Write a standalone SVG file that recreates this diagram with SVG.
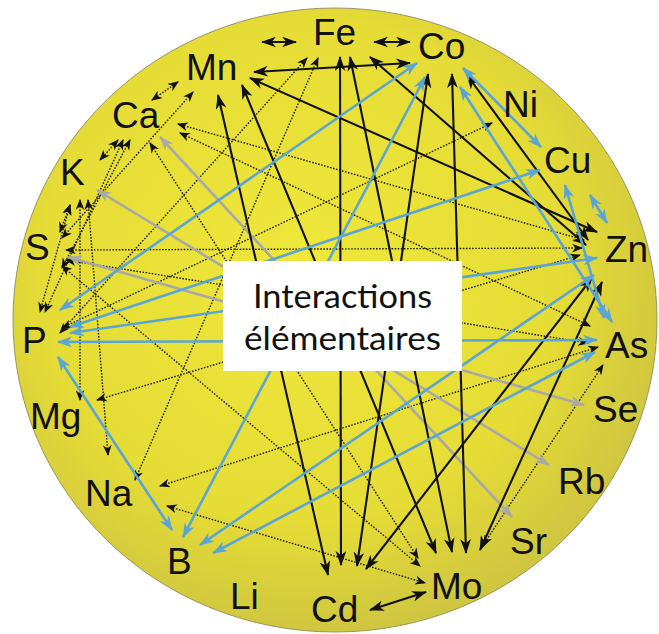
<svg xmlns="http://www.w3.org/2000/svg" width="659" height="634" viewBox="0 0 659 634">
<defs>
<radialGradient id="bg" cx="0.45" cy="0.42" r="0.62">
<stop offset="0" stop-color="#efe83a"/>
<stop offset="0.65" stop-color="#e5dc36"/>
<stop offset="1" stop-color="#cbc242"/>
</radialGradient>
<marker id="ak" viewBox="0 0 14 10" refX="13" refY="5" markerWidth="15" markerHeight="11" markerUnits="userSpaceOnUse" orient="auto-start-reverse"><path d="M0,0 L14,5 L0,10 L4,5 z" fill="#111"/></marker>
<marker id="ab" viewBox="0 0 14 10" refX="13" refY="5" markerWidth="15" markerHeight="11" markerUnits="userSpaceOnUse" orient="auto-start-reverse"><path d="M0,0 L14,5 L0,10 L4,5 z" fill="#5aa5d6"/></marker>
<marker id="ag" viewBox="0 0 14 10" refX="13" refY="5" markerWidth="15" markerHeight="11" markerUnits="userSpaceOnUse" orient="auto-start-reverse"><path d="M0,0 L14,5 L0,10 L4,5 z" fill="#a9a9a9"/></marker>
<marker id="ad" viewBox="0 0 10 8" refX="9" refY="4" markerWidth="11" markerHeight="9" markerUnits="userSpaceOnUse" orient="auto-start-reverse"><path d="M0,0 L10,4 L0,8 L3,4 z" fill="#111"/></marker>
</defs>
<style>
.k{stroke:#111;stroke-width:2.1;fill:none;marker-start:url(#ak);marker-end:url(#ak)}
.b{stroke:#5aa5d6;stroke-width:2.6;fill:none;marker-start:url(#ab);marker-end:url(#ab)}
.g{stroke:#a8a8a8;stroke-width:2.6;fill:none;marker-start:url(#ag);marker-end:url(#ag)}
.d{stroke:#1e1e10;stroke-width:1.4;stroke-dasharray:1.6 1.5;fill:none;marker-start:url(#ad);marker-end:url(#ad)}
.lbl{font-family:"Liberation Sans",Arial,sans-serif;font-size:37px;fill:#111}
.ctr{font-family:"Lato","Open Sans",sans-serif;font-size:33px;fill:#111;text-anchor:middle}
</style>
<ellipse id="disc" cx="335" cy="320" rx="322" ry="312" fill="url(#bg)" stroke="#9a9460" stroke-width="1"/>
<g id="connectors">
<g id="dotted">
<line class="d" x1="152" y1="100" x2="178" y2="82"/>
<line class="d" x1="193" y1="92" x2="62" y2="238"/>
<line class="d" x1="307" y1="58" x2="60" y2="333"/>
<line class="d" x1="318" y1="58" x2="135" y2="480"/>
<line class="d" x1="492" y1="123" x2="62" y2="328"/>
<line class="d" x1="66" y1="250" x2="582" y2="248"/>
<line class="d" x1="178" y1="124" x2="584" y2="240"/>
<line class="d" x1="180" y1="133" x2="590" y2="326"/>
<line class="d" x1="66" y1="260" x2="588" y2="343"/>
<line class="d" x1="62" y1="266" x2="420" y2="566"/>
<line class="d" x1="150" y1="143" x2="418" y2="558"/>
<line class="d" x1="598" y1="347" x2="160" y2="486"/>
<line class="d" x1="167" y1="506" x2="425" y2="583"/>
<line class="d" x1="483" y1="545" x2="603" y2="365"/>
<line class="d" x1="123" y1="140" x2="45" y2="312"/>
<line class="d" x1="70" y1="205" x2="40" y2="312"/>
<line class="d" x1="80" y1="200" x2="80" y2="400"/>
<line class="d" x1="88" y1="200" x2="108" y2="455"/>
<line class="d" x1="60" y1="232" x2="70" y2="205"/>
<line class="d" x1="118" y1="140" x2="100" y2="160"/>
<line class="d" x1="97" y1="400" x2="580" y2="255"/>
<line class="d" x1="130" y1="140" x2="62" y2="268"/>
</g>
<g id="grey">
<line class="g" x1="160" y1="137" x2="512" y2="517"/>
<line class="g" x1="97" y1="190" x2="549" y2="465"/>
<line class="g" x1="68" y1="257" x2="584" y2="405"/>
</g>
<g id="black">
<line class="k" x1="254" y1="72" x2="410" y2="63"/>
<line class="k" x1="262" y1="42" x2="296" y2="42"/>
<line class="k" x1="374" y1="42" x2="410" y2="42"/>
<line class="k" x1="370" y1="610" x2="426" y2="592"/>
<line class="k" x1="250" y1="78" x2="597" y2="232"/>
<line class="k" x1="370" y1="57" x2="586" y2="245"/>
<line class="k" x1="218" y1="95" x2="328" y2="575"/>
<line class="k" x1="242" y1="85" x2="436" y2="553"/>
<line class="k" x1="340" y1="57" x2="341" y2="565"/>
<line class="k" x1="350" y1="57" x2="452" y2="552"/>
<line class="k" x1="428" y1="74" x2="357" y2="566"/>
<line class="k" x1="452" y1="74" x2="466" y2="553"/>
<line class="k" x1="467" y1="75" x2="588" y2="240"/>
<line class="k" x1="592" y1="278" x2="366" y2="569"/>
<line class="k" x1="602" y1="282" x2="480" y2="550"/>
</g>
<g id="blue">
<line class="b" x1="417" y1="63" x2="60" y2="310"/>
<line class="b" x1="425" y1="77" x2="183" y2="537"/>
<line class="b" x1="463" y1="68" x2="541" y2="147"/>
<line class="b" x1="460" y1="87" x2="612" y2="322"/>
<line class="b" x1="565" y1="185" x2="604" y2="318"/>
<line class="b" x1="590" y1="195" x2="607" y2="223"/>
<line class="b" x1="540" y1="170" x2="70" y2="327"/>
<line class="b" x1="597" y1="258" x2="70" y2="333"/>
<line class="b" x1="597" y1="340" x2="58" y2="342"/>
<line class="b" x1="58" y1="357" x2="172" y2="530"/>
<line class="b" x1="200" y1="545" x2="594" y2="275"/>
<line class="b" x1="213" y1="553" x2="595" y2="352"/>
</g>
</g>
<g id="n-Mn"><text class="lbl" x="186" y="80">Mn</text></g>
<g id="n-Fe"><text class="lbl" x="313" y="45">Fe</text></g>
<g id="n-Co"><text class="lbl" x="418" y="59">Co</text></g>
<g id="n-Ni"><text class="lbl" x="503" y="117">Ni</text></g>
<g id="n-Cu"><text class="lbl" x="544" y="173">Cu</text></g>
<g id="n-Zn"><text class="lbl" x="605" y="262">Zn</text></g>
<g id="n-As"><text class="lbl" x="605" y="358">As</text></g>
<g id="n-Se"><text class="lbl" x="593" y="422">Se</text></g>
<g id="n-Rb"><text class="lbl" x="558" y="494">Rb</text></g>
<g id="n-Sr"><text class="lbl" x="510" y="554">Sr</text></g>
<g id="n-Mo"><text class="lbl" x="431" y="599">Mo</text></g>
<g id="n-Cd"><text class="lbl" x="311" y="622">Cd</text></g>
<g id="n-Li"><text class="lbl" x="230" y="609">Li</text></g>
<g id="n-B"><text class="lbl" x="167" y="574">B</text></g>
<g id="n-Na"><text class="lbl" x="85" y="506">Na</text></g>
<g id="n-Mg"><text class="lbl" x="30" y="429">Mg</text></g>
<g id="n-P"><text class="lbl" x="22" y="353">P</text></g>
<g id="n-S"><text class="lbl" x="25" y="260">S</text></g>
<g id="n-K"><text class="lbl" x="60" y="185">K</text></g>
<g id="n-Ca"><text class="lbl" x="112" y="128">Ca</text></g>
<g id="n-center">
<rect x="223" y="261" width="239" height="110" fill="#ffffff"/>
<text class="ctr" x="342.5" y="308" textLength="179" lengthAdjust="spacingAndGlyphs">Interactions</text>
<text class="ctr" x="342.5" y="350" textLength="197" lengthAdjust="spacingAndGlyphs">élémentaires</text>
</g>
</svg>
